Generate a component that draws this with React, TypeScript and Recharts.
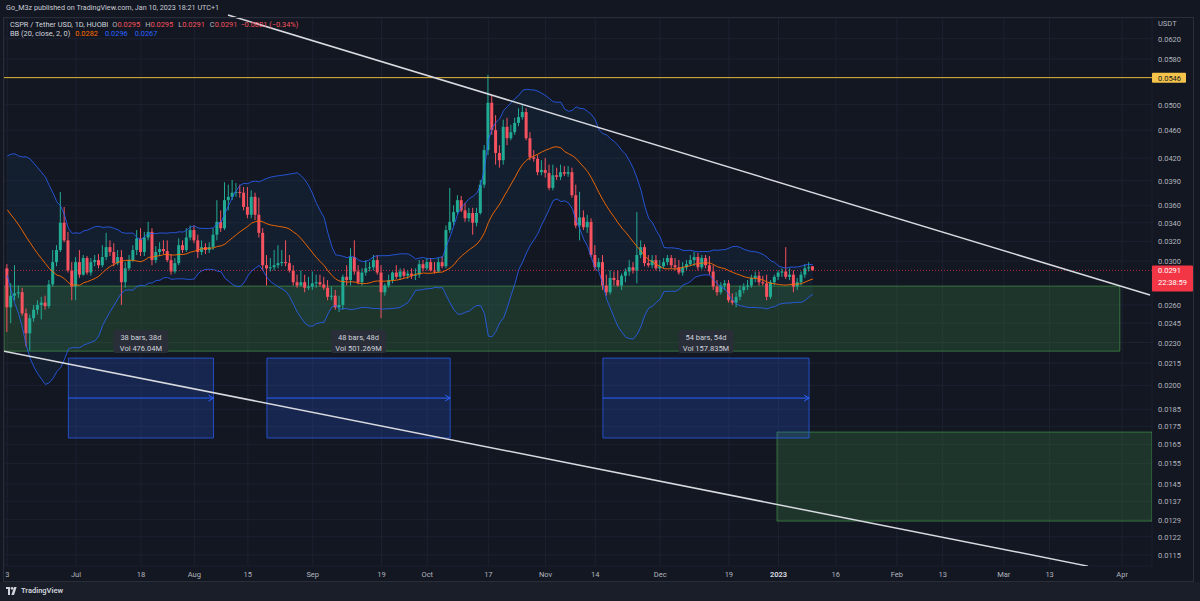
import React from 'react';
import { ComposedChart, Bar, Line, Area, XAxis, YAxis, CartesianGrid, ReferenceLine, ReferenceArea } from 'recharts';

// day index: 0 = 2022-07-01 ; first visible candle = 2022-06-13
const FIRST_DAY = -18;

const opens = [
  0.0293,0.0258,0.0268,0.0270,0.0271,0.0253,0.0237,0.0249,0.0256,0.0260,0.0262,0.0259,0.0278,0.0299,0.0311,0.0340,0.0321,0.0291,
  0.0276,0.0299,0.0287,0.0303,0.0289,0.0299,0.0301,0.0296,0.0304,0.0314,
  0.0309,0.0298,0.0304,0.0280,0.0293,0.0301,0.0311,0.0323,0.0309,0.0324,
  0.0330,0.0301,0.0309,0.0312,0.0310,0.0301,0.0290,0.0298,0.0316,0.0311,
  0.0324,0.0332,0.0321,0.0309,0.0314,0.0311,0.0314,0.0327,0.0341,0.0334,
  0.0366,0.0370,0.0375,0.0376,0.0375,0.0358,0.0349,0.0370,0.0349,0.0329,
  0.0296,0.0293,0.0294,0.0296,0.0298,0.0299,0.0298,0.0291,0.0280,0.0277,
  0.0280,0.0275,0.0276,0.0279,0.0280,0.0278,0.0275,0.0267,0.0268,0.0258,
  0.0260,0.0285,0.0282,0.0304,0.0290,0.0280,0.0289,0.0293,0.0294,0.0301,
  0.0289,0.0271,0.0277,0.0282,0.0289,0.0285,0.0290,0.0286,0.0288,0.0286,
  0.0287,0.0297,0.0293,0.0299,0.0291,0.0290,0.0299,0.0295,0.0332,0.0341,
  0.0352,0.0366,0.0354,0.0345,0.0351,0.0340,0.0351,0.0385,0.0431,0.0503,
  0.0460,0.0427,0.0417,0.0465,0.0448,0.0457,0.0471,0.0480,0.0488,0.0448,
  0.0421,0.0419,0.0401,0.0404,0.0400,0.0381,0.0397,0.0395,0.0401,0.0399,
  0.0401,0.0372,0.0337,0.0346,0.0335,0.0341,0.0306,0.0294,0.0299,0.0277,
  0.0271,0.0284,0.0282,0.0277,0.0286,0.0290,0.0294,0.0291,0.0306,0.0314,
  0.0298,0.0296,0.0301,0.0293,0.0295,0.0299,0.0303,0.0296,0.0294,0.0289,
  0.0294,0.0297,0.0301,0.0304,0.0294,0.0303,0.0296,0.0290,0.0276,0.0271,
  0.0277,0.0279,0.0264,0.0262,0.0267,0.0273,0.0276,0.0277,0.0284,0.0286,
  0.0280,0.0279,0.0267,0.0280,0.0285,0.0289,0.0290,0.0285,0.0287,0.0276,
  0.0280,0.0287,0.0293,0.0295,
];
const highs = [
  0.0297,0.0279,0.0296,0.0277,0.0275,0.0257,0.0252,0.0260,0.0264,0.0267,0.0268,0.0282,0.0311,0.0316,0.0376,0.0358,0.0330,0.0299,
  0.0304,0.0311,0.0306,0.0305,0.0303,0.0306,0.0307,0.0316,0.0329,0.0321,
  0.0318,0.0311,0.0311,0.0299,0.0306,0.0316,0.0332,0.0334,0.0330,0.0341,
  0.0334,0.0315,0.0319,0.0321,0.0321,0.0307,0.0303,0.0323,0.0321,0.0334,
  0.0337,0.0337,0.0327,0.0321,0.0318,0.0319,0.0334,0.0366,0.0354,0.0388,
  0.0385,0.0391,0.0387,0.0385,0.0382,0.0382,0.0378,0.0375,0.0369,0.0334,
  0.0306,0.0303,0.0311,0.0316,0.0311,0.0321,0.0306,0.0296,0.0287,0.0291,
  0.0287,0.0285,0.0290,0.0287,0.0287,0.0285,0.0282,0.0276,0.0273,0.0268,
  0.0287,0.0296,0.0313,0.0321,0.0296,0.0293,0.0301,0.0299,0.0306,0.0306,
  0.0296,0.0279,0.0287,0.0290,0.0296,0.0293,0.0293,0.0291,0.0293,0.0293,
  0.0301,0.0301,0.0303,0.0303,0.0299,0.0303,0.0305,0.0337,0.0381,0.0360,
  0.0372,0.0371,0.0363,0.0357,0.0357,0.0357,0.0391,0.0438,0.0551,0.0516,
  0.0483,0.0438,0.0476,0.0479,0.0468,0.0479,0.0494,0.0499,0.0494,0.0457,
  0.0431,0.0424,0.0417,0.0420,0.0411,0.0411,0.0407,0.0411,0.0409,0.0409,
  0.0407,0.0385,0.0376,0.0354,0.0349,0.0345,0.0316,0.0303,0.0306,0.0287,
  0.0291,0.0290,0.0291,0.0288,0.0293,0.0301,0.0299,0.0352,0.0321,0.0317,
  0.0306,0.0306,0.0306,0.0301,0.0303,0.0306,0.0306,0.0303,0.0301,0.0299,
  0.0301,0.0306,0.0309,0.0308,0.0306,0.0306,0.0305,0.0296,0.0282,0.0280,
  0.0282,0.0282,0.0270,0.0271,0.0277,0.0279,0.0282,0.0287,0.0290,0.0290,
  0.0286,0.0287,0.0282,0.0287,0.0291,0.0293,0.0314,0.0293,0.0291,0.0284,
  0.0290,0.0297,0.0299,0.0295,
];
const lows = [
  0.0238,0.0245,0.0264,0.0266,0.0251,0.0227,0.0224,0.0246,0.0252,0.0248,0.0256,0.0257,0.0276,0.0295,0.0309,0.0319,0.0289,0.0264,
  0.0264,0.0284,0.0286,0.0287,0.0286,0.0295,0.0293,0.0294,0.0301,0.0305,
  0.0295,0.0296,0.0260,0.0275,0.0291,0.0299,0.0306,0.0305,0.0305,0.0321,
  0.0296,0.0298,0.0305,0.0307,0.0299,0.0287,0.0288,0.0296,0.0308,0.0309,
  0.0321,0.0318,0.0303,0.0306,0.0307,0.0308,0.0311,0.0321,0.0330,0.0332,
  0.0354,0.0366,0.0370,0.0369,0.0354,0.0345,0.0345,0.0343,0.0324,0.0291,
  0.0277,0.0290,0.0291,0.0293,0.0295,0.0295,0.0289,0.0277,0.0275,0.0276,
  0.0271,0.0273,0.0273,0.0275,0.0276,0.0273,0.0264,0.0264,0.0256,0.0254,
  0.0256,0.0277,0.0277,0.0287,0.0278,0.0277,0.0286,0.0290,0.0291,0.0287,
  0.0249,0.0268,0.0275,0.0279,0.0283,0.0282,0.0284,0.0283,0.0283,0.0282,
  0.0284,0.0290,0.0291,0.0290,0.0288,0.0289,0.0293,0.0293,0.0329,0.0337,
  0.0349,0.0352,0.0341,0.0341,0.0327,0.0336,0.0349,0.0381,0.0424,0.0453,
  0.0411,0.0407,0.0411,0.0438,0.0445,0.0453,0.0466,0.0476,0.0445,0.0417,
  0.0415,0.0397,0.0397,0.0394,0.0378,0.0378,0.0391,0.0391,0.0396,0.0395,
  0.0369,0.0334,0.0321,0.0332,0.0329,0.0304,0.0291,0.0291,0.0273,0.0268,
  0.0269,0.0277,0.0276,0.0273,0.0280,0.0286,0.0288,0.0279,0.0303,0.0295,
  0.0294,0.0293,0.0291,0.0290,0.0293,0.0296,0.0293,0.0291,0.0287,0.0286,
  0.0291,0.0295,0.0295,0.0291,0.0292,0.0293,0.0287,0.0273,0.0268,0.0269,
  0.0273,0.0262,0.0260,0.0258,0.0264,0.0270,0.0273,0.0275,0.0280,0.0277,
  0.0277,0.0264,0.0265,0.0277,0.0282,0.0285,0.0283,0.0282,0.0271,0.0273,
  0.0277,0.0284,0.0290,0.0291,
];
const closes = [
  0.0258,0.0268,0.0270,0.0271,0.0253,0.0237,0.0249,0.0256,0.0260,0.0262,0.0259,0.0278,0.0299,0.0311,0.0340,0.0321,0.0291,0.0276,
  0.0299,0.0287,0.0303,0.0289,0.0299,0.0301,0.0296,0.0304,0.0314,0.0309,
  0.0298,0.0304,0.0280,0.0293,0.0301,0.0311,0.0323,0.0309,0.0324,0.0330,
  0.0301,0.0309,0.0312,0.0310,0.0301,0.0290,0.0298,0.0316,0.0311,0.0324,
  0.0332,0.0321,0.0309,0.0314,0.0311,0.0314,0.0327,0.0341,0.0334,0.0366,
  0.0370,0.0375,0.0376,0.0375,0.0358,0.0349,0.0370,0.0349,0.0329,0.0296,
  0.0293,0.0294,0.0296,0.0298,0.0299,0.0298,0.0291,0.0280,0.0277,0.0280,
  0.0275,0.0276,0.0279,0.0280,0.0278,0.0275,0.0267,0.0268,0.0258,0.0260,
  0.0285,0.0282,0.0304,0.0290,0.0280,0.0289,0.0293,0.0294,0.0301,0.0289,
  0.0271,0.0277,0.0282,0.0289,0.0285,0.0290,0.0286,0.0288,0.0286,0.0287,
  0.0297,0.0293,0.0299,0.0291,0.0290,0.0299,0.0295,0.0332,0.0341,0.0352,
  0.0366,0.0354,0.0345,0.0351,0.0340,0.0351,0.0385,0.0431,0.0503,0.0460,
  0.0427,0.0417,0.0465,0.0448,0.0457,0.0471,0.0480,0.0488,0.0448,0.0421,
  0.0419,0.0401,0.0404,0.0400,0.0381,0.0397,0.0395,0.0401,0.0399,0.0401,
  0.0372,0.0337,0.0346,0.0335,0.0341,0.0306,0.0294,0.0299,0.0277,0.0271,
  0.0284,0.0282,0.0277,0.0286,0.0290,0.0294,0.0291,0.0306,0.0314,0.0298,
  0.0296,0.0301,0.0293,0.0295,0.0299,0.0303,0.0296,0.0294,0.0289,0.0294,
  0.0297,0.0301,0.0304,0.0294,0.0303,0.0296,0.0290,0.0276,0.0271,0.0277,
  0.0279,0.0264,0.0262,0.0267,0.0273,0.0276,0.0277,0.0284,0.0286,0.0280,
  0.0279,0.0267,0.0280,0.0285,0.0289,0.0290,0.0285,0.0287,0.0276,0.0280,
  0.0287,0.0293,0.0294,0.0291,
];
// closes of the 19 sessions before the visible range (needed for the BB(20) window)
const priorCloses = [0.0385,0.0378,0.0390,0.0380,0.0372,0.0368,0.0375,0.0366,0.0360,0.0354,0.0372,0.0365,0.0370,0.0362,0.0368,0.0363,0.0320,0.0295,0.0293];

const xTicks = [-18, 0, 17, 31, 45, 62, 80, 92, 108, 123, 136, 153, 171, 184, 199, 215, 227, 243, 255, 274];
const xTickLabels = ['3', 'Jul', '18', 'Aug', '15', 'Sep', '19', 'Oct', '17', 'Nov', '14', 'Dec', '19', '2023', '16', 'Feb', '13', 'Mar', '13', 'Apr'];
const yTicks = [0.062, 0.058, 0.05, 0.046, 0.042, 0.039, 0.036, 0.034, 0.032, 0.03, 0.026, 0.0245, 0.023, 0.0215, 0.02, 0.0185, 0.0175, 0.0165, 0.0155, 0.0145, 0.0137, 0.0129, 0.0122, 0.0115];

const X_DOMAIN: [number, number] = [-18.86, 281.82];
const Y_DOMAIN: [number, number] = [0.01109, 0.06633];

const resistanceLevel = 0.0546;
const lastPrice = 0.0291;
const upperTrendT = [39.8, 281.3];
const upperTrendP = [0.06699, 0.02685];
const lowerTrendT = [-18.86, 265.06];
const lowerTrendP = [0.02236, 0.011085];
const zoneT = [-18.86, 273.4];
const zoneP = [0.02236, 0.02765];
const targetT = [183.6, 281.82];
const targetP = [0.01284, 0.01717];
const rangeStarts = [-2, 50, 138];
const rangeEnds = [36, 98, 192];
const rangeP = [0.01684, 0.02186];
const rangeBars = ['38 bars, 38d', '48 bars, 48d', '54 bars, 54d'];
const rangeVols = ['Vol 476.04M', 'Vol 501.269M', 'Vol 157.835M'];

const UP = '#22ab94';
const DOWN = '#f7525f';
const BG = '#131722';
const FONT = 'Roboto, "Noto Sans", sans-serif';

const allCloses = [...priorCloses, ...closes];
const data = closes.map((c, i) => {
  const j = i + priorCloses.length;
  const win = allCloses.slice(j - 19, j + 1);
  const mean = win.reduce((a, b) => a + b, 0) / win.length;
  const sd = Math.sqrt(win.reduce((a, b) => a + (b - mean) * (b - mean), 0) / win.length);
  return {
    t: FIRST_DAY + i,
    o: opens[i], h: highs[i], l: lows[i], c,
    range: [lows[i], highs[i]],
    basis: mean,
    upper: mean + 2 * sd,
    lower: mean - 2 * sd,
    band: [mean - 2 * sd, mean + 2 * sd],
  };
});

function Candle(props: any) {
  const { x, y, width, height, payload } = props;
  if (x == null || y == null || !payload || height == null) return null;
  let top = y;
  let h = height;
  if (h < 0) { top = y + h; h = -h; }
  const lh = Math.log(payload.h);
  const ll = Math.log(payload.l);
  const py = (v: number) => (lh === ll ? top : top + (h * (lh - Math.log(v))) / (lh - ll));
  const color = payload.c >= payload.o ? UP : DOWN;
  const cx = x + width / 2;
  const yo = py(payload.o);
  const yc = py(payload.c);
  const bt = Math.min(yo, yc);
  const bb = Math.max(yo, yc);
  return (
    <g>
      <line x1={cx} x2={cx} y1={top} y2={top + h} stroke={color} strokeWidth={1} />
      <rect x={x} y={bt} width={width} height={Math.max(bb - bt, 1)} fill={color} />
    </g>
  );
}

function XTick(props: any) {
  const { x, y, payload } = props;
  const idx = xTicks.indexOf(payload.value);
  const label = idx >= 0 ? xTickLabels[idx] : '';
  const bold = label === '2023';
  return (
    <text x={x} y={y} dy={3} textAnchor="middle" fontSize={7.5} fontFamily={FONT} fontWeight={bold ? 700 : 400} fill={bold ? '#d1d4dc' : '#b2b5be'}>
      {label}
    </text>
  );
}

function YTick(props: any) {
  const { x, y, payload } = props;
  return (
    <text x={x} y={y} dy={3} textAnchor="start" fontSize={7.5} fontFamily={FONT} fill="#b2b5be">
      {Number(payload.value).toFixed(4)}
    </text>
  );
}

function PriceTag(props: any) {
  const { viewBox, text, sub, bg, fg, tagH } = props;
  if (!viewBox) return null;
  const x = viewBox.x + viewBox.width;
  const y = viewBox.y;
  return (
    <g>
      <rect x={x} y={y - 5} width={sub ? 41 : 34} height={tagH} fill={bg} rx={1} />
      <text x={x + 6} y={y + 3} fontSize={7.5} fontFamily={FONT} fill={fg}>{text}</text>
      {sub ? <text x={x + 6} y={y + 14.5} fontSize={7.5} fontFamily={FONT} fill={fg}>{sub}</text> : null}
    </g>
  );
}

function RangeLabel(props: any) {
  const { viewBox, bars, vol } = props;
  if (!viewBox) return null;
  const { x, y, width, height } = viewBox;
  const mid = y + height / 2;
  const cx = x + width / 2;
  const w = Math.max(bars.length, vol.length) * 3.9 + 8;
  return (
    <g>
      <line x1={x} x2={x + width} y1={mid} y2={mid} stroke="#2962ff" strokeWidth={1} />
      <path d={`M${x + width - 5},${mid - 3}L${x + width},${mid}L${x + width - 5},${mid + 3}`} stroke="#2962ff" fill="none" />
      <rect x={cx - w / 2} y={y - 28} width={w} height={23} rx={2} fill="#2a2e39" />
      <text x={cx} y={y - 18.5} textAnchor="middle" fontSize={7.5} fontFamily={FONT} fill="#d1d4dc">{bars}</text>
      <text x={cx} y={y - 7.5} textAnchor="middle" fontSize={7.5} fontFamily={FONT} fill="#d1d4dc">{vol}</text>
    </g>
  );
}

export default function App() {
  return (
    <div style={{ position: 'absolute', left: 0, top: 0, width: 1200, height: 601, background: BG, overflow: 'hidden', fontFamily: FONT }}>
      <div style={{ position: 'absolute', left: 0, top: 582, width: 1200, height: 19, background: '#1a1e29' }} />
      <ComposedChart width={1200} height={601} data={data} margin={{ top: 18, right: 0, left: 4, bottom: 20 }} style={{ position: 'absolute', left: 0, top: 0 }}>
        <CartesianGrid stroke="#1d2130" strokeWidth={1} />
        <XAxis dataKey="t" type="number" domain={X_DOMAIN} ticks={xTicks} interval={0} allowDataOverflow axisLine={false} tickLine={false} height={15} tick={<XTick />} />
        <YAxis orientation="right" scale="log" type="number" domain={Y_DOMAIN} ticks={yTicks} interval={0} allowDataOverflow width={48} axisLine={false} tickLine={false} tickSize={4} tickMargin={2} tick={<YTick />} />
        <Area dataKey="band" fill="#2196f3" fillOpacity={0.06} stroke="none" isAnimationActive={false} />
        <ReferenceArea x1={zoneT[0]} x2={zoneT[1]} y1={zoneP[0]} y2={zoneP[1]} fill="#4caf50" fillOpacity={0.2} stroke="#4caf50" strokeOpacity={0.55} ifOverflow="hidden" />
        <ReferenceArea x1={targetT[0]} x2={targetT[1]} y1={targetP[0]} y2={targetP[1]} fill="#4caf50" fillOpacity={0.2} stroke="#4caf50" strokeOpacity={0.55} ifOverflow="hidden" />
        {rangeStarts.map((s, i) => (
          <ReferenceArea key={i} x1={s} x2={rangeEnds[i]} y1={rangeP[0]} y2={rangeP[1]} fill="#2962ff" fillOpacity={0.2} stroke="#2962ff" strokeOpacity={0.7}
            label={(p: any) => <RangeLabel {...p} bars={rangeBars[i]} vol={rangeVols[i]} />} />
        ))}
        <Line dataKey="upper" stroke="#2962ff" strokeOpacity={0.8} strokeWidth={1} dot={false} activeDot={false} isAnimationActive={false} />
        <Line dataKey="lower" stroke="#2962ff" strokeOpacity={0.8} strokeWidth={1} dot={false} activeDot={false} isAnimationActive={false} />
        <Line dataKey="basis" stroke="#ff6d00" strokeOpacity={0.9} strokeWidth={1} dot={false} activeDot={false} isAnimationActive={false} />
        <ReferenceLine y={lastPrice} stroke="#f23645" strokeOpacity={0.7} strokeDasharray="1 2" strokeWidth={1}
          label={(p: any) => <PriceTag {...p} text="0.0291" sub="22:38:59" bg="#f23645" fg="#ffffff" tagH={26} />} />
        <Bar dataKey="range" barSize={3} isAnimationActive={false} shape={(p: any) => <Candle {...p} />} />
        <ReferenceLine y={resistanceLevel} stroke="#e5b83a" strokeWidth={1}
          label={(p: any) => <PriceTag {...p} text="0.0546" bg="#f3c34a" fg="#131722" tagH={10} />} />
        <ReferenceLine segment={[{ x: upperTrendT[0], y: upperTrendP[0] }, { x: upperTrendT[1], y: upperTrendP[1] }]} stroke="#d8dae0" strokeWidth={1.5} ifOverflow="visible" />
        <ReferenceLine segment={[{ x: lowerTrendT[0], y: lowerTrendP[0] }, { x: lowerTrendT[1], y: lowerTrendP[1] }]} stroke="#d8dae0" strokeWidth={1.5} ifOverflow="hidden" />
      </ComposedChart>
      <div style={{ position: 'absolute', left: 3, top: 17, width: 1189, height: 563, border: '1px solid #2a2e39', pointerEvents: 'none' }} />
      <div style={{ position: 'absolute', left: 6, top: 3, fontSize: 7.2, color: '#c8cbd3', whiteSpace: 'nowrap' }}>
        Go_M3z published on TradingView.com, Jan 10, 2023 18:21 UTC+1
      </div>
      <div style={{ position: 'absolute', left: 10, top: 19.5, fontSize: 7.4, color: '#d1d4dc', whiteSpace: 'nowrap', lineHeight: '9.5px' }}>
        <div>
          CSPR / Tether USD, 1D, HUOBI
          <span style={{ marginLeft: 4, color: '#b2b5be' }}>O</span><span style={{ color: DOWN }}>0.0295</span>
          <span style={{ marginLeft: 5, color: '#b2b5be' }}>H</span><span style={{ color: DOWN }}>0.0295</span>
          <span style={{ marginLeft: 5, color: '#b2b5be' }}>L</span><span style={{ color: DOWN }}>0.0291</span>
          <span style={{ marginLeft: 5, color: '#b2b5be' }}>C</span><span style={{ color: DOWN }}>0.0291</span>
          <span style={{ marginLeft: 3, color: DOWN }}>−0.0001 (−0.34%)</span>
        </div>
        <div>
          BB (20, close, 2, 0)
          <span style={{ marginLeft: 5, color: '#ff6d00' }}>0.0282</span>
          <span style={{ marginLeft: 7, color: '#2962ff' }}>0.0296</span>
          <span style={{ marginLeft: 7, color: '#2962ff' }}>0.0267</span>
        </div>
      </div>
      <div style={{ position: 'absolute', left: 1158, top: 19, fontSize: 7.5, color: '#b2b5be' }}>USDT</div>
      <div style={{ position: 'absolute', left: 6, top: 586, display: 'flex', alignItems: 'center', gap: 3 }}>
        <svg width={12} height={8} viewBox="0 0 36 24">
          <path d="M0 0h12v24H6V6H0z" fill="#d1d4dc" />
          <circle cx={18} cy={4} r={4} fill="#d1d4dc" />
          <path d="M24 0h8l-8 24h-8z" fill="#d1d4dc" />
        </svg>
        <span style={{ fontSize: 7.5, color: '#d1d4dc', fontWeight: 600 }}>TradingView</span>
      </div>
    </div>
  );
}
